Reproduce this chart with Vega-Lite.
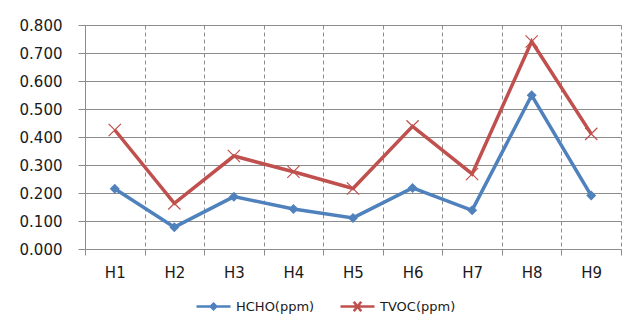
{
  "$schema": "https://vega.github.io/schema/vega-lite/v6.json",
  "autosize": {"type": "none"},
  "width": 536,
  "height": 224,
  "padding": {"left": 85, "top": 25, "right": 13, "bottom": 75},
  "background": "#ffffff",
  "config": {
    "font": "DejaVu Sans",
    "view": {"stroke": null},
    "axis": {
      "labelFont": "DejaVu Sans",
      "labelColor": "#1a1a1a",
      "domainColor": "#8c8c8c",
      "tickColor": "#8c8c8c",
      "gridColor": "#8c8c8c",
      "gridOpacity": 1,
      "title": null
    }
  },
  "data": {
    "values": [
      {"site": "H1", "series": "HCHO(ppm)", "value": 0.215},
      {"site": "H2", "series": "HCHO(ppm)", "value": 0.078},
      {"site": "H3", "series": "HCHO(ppm)", "value": 0.187},
      {"site": "H4", "series": "HCHO(ppm)", "value": 0.143},
      {"site": "H5", "series": "HCHO(ppm)", "value": 0.111},
      {"site": "H6", "series": "HCHO(ppm)", "value": 0.218},
      {"site": "H7", "series": "HCHO(ppm)", "value": 0.138},
      {"site": "H8", "series": "HCHO(ppm)", "value": 0.549},
      {"site": "H9", "series": "HCHO(ppm)", "value": 0.191},
      {"site": "H1", "series": "TVOC(ppm)", "value": 0.425},
      {"site": "H2", "series": "TVOC(ppm)", "value": 0.163},
      {"site": "H3", "series": "TVOC(ppm)", "value": 0.332},
      {"site": "H4", "series": "TVOC(ppm)", "value": 0.276},
      {"site": "H5", "series": "TVOC(ppm)", "value": 0.216},
      {"site": "H6", "series": "TVOC(ppm)", "value": 0.438},
      {"site": "H7", "series": "TVOC(ppm)", "value": 0.268},
      {"site": "H8", "series": "TVOC(ppm)", "value": 0.741},
      {"site": "H9", "series": "TVOC(ppm)", "value": 0.411}
    ]
  },
  "encoding": {
    "x": {
      "field": "site",
      "type": "ordinal",
      "sort": ["H1", "H2", "H3", "H4", "H5", "H6", "H7", "H8", "H9"],
      "scale": {"type": "band", "paddingInner": 0, "paddingOuter": 0},
      "axis": {
        "tickBand": "extent",
        "labelAngle": 0,
        "labelFontSize": 15,
        "labelPadding": 10,
        "tickSize": 6,
        "grid": true,
        "gridDash": [4, 3],
        "domain": true
      }
    },
    "y": {
      "field": "value",
      "type": "quantitative",
      "scale": {"domain": [0, 0.8], "nice": false},
      "axis": {
        "values": [0, 0.1, 0.2, 0.3, 0.4, 0.5, 0.6, 0.7, 0.8],
        "format": ".3f",
        "labelFontSize": 15,
        "labelPadding": 16,
        "tickSize": 7,
        "grid": true,
        "domain": true
      }
    }
  },
  "layer": [
    {
      "transform": [{"filter": "datum.series === 'HCHO(ppm)'"}],
      "mark": {"type": "line", "strokeWidth": 3.5, "color": "#4F81BD"}
    },
    {
      "transform": [{"filter": "datum.series === 'TVOC(ppm)'"}],
      "mark": {"type": "line", "strokeWidth": 3.5, "color": "#C0504D"}
    },
    {
      "transform": [{"filter": "datum.series === 'HCHO(ppm)'"}],
      "mark": {"type": "point", "shape": "diamond", "filled": true, "size": 100, "opacity": 1, "color": "#4F81BD"}
    },
    {
      "transform": [{"filter": "datum.series === 'TVOC(ppm)'"}],
      "mark": {"type": "point", "shape": "M-1,-1L1,1M-1,1L1,-1", "filled": false, "size": 150, "strokeWidth": 1.2, "opacity": 1, "color": "#C0504D"}
    },
    {
      "transform": [{"filter": "false"}],
      "mark": {"type": "point", "filled": false, "opacity": 1},
      "encoding": {
        "shape": {
          "field": "series",
          "type": "nominal",
          "scale": {
            "domain": ["HCHO(ppm)", "TVOC(ppm)"],
            "range": [
              "M-1,0L1,0M0,-0.16L0.16,0L0,0.16L-0.16,0Z",
              "M-1,0L1,0M-0.22,-0.28L0.22,0.28M-0.22,0.28L0.22,-0.28"
            ]
          },
          "legend": {
            "title": null,
            "orient": "none",
            "direction": "horizontal",
            "legendX": 110,
            "legendY": 263,
            "padding": 0,
            "symbolSize": 1156,
            "symbolStrokeWidth": 2.6,
            "symbolOpacity": 1,
            "labelFont": "DejaVu Sans",
            "labelFontSize": 13,
            "labelColor": "#1a1a1a",
            "labelOffset": 4,
            "columnPadding": 20,
            "gridAlign": "none"
          }
        },
        "stroke": {
          "field": "series",
          "type": "nominal",
          "scale": {"domain": ["HCHO(ppm)", "TVOC(ppm)"], "range": ["#4F81BD", "#C0504D"]},
          "legend": {"title": null}
        }
      }
    }
  ]
}
